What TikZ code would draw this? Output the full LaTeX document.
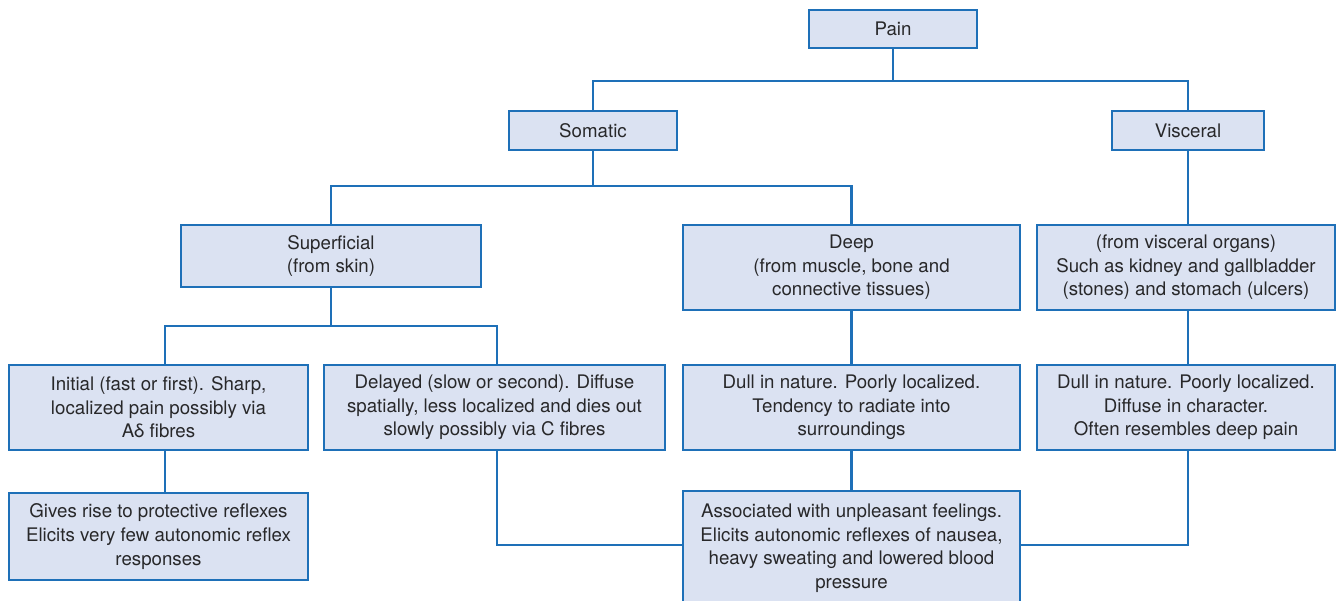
\documentclass[tikz,border=0pt]{standalone}
\usepackage{fontspec}
\setmainfont{TeX Gyre Heros}
\definecolor{boxfill}{RGB}{219,226,242}
\definecolor{boxline}{RGB}{30,112,184}
\definecolor{inktext}{RGB}{40,40,42}
\tikzset{
  box/.style={draw=boxline, line width=1.8pt, fill=boxfill, rectangle,
    inner sep=0pt, align=center, text=inktext,
    font=\fontsize{18.7}{23.6}\selectfont},
  conn/.style={draw=boxline, line width=2.7pt, line cap=rect}
}
\begin{document}
\begin{tikzpicture}[x=1pt,y=-1pt]
\useasboundingbox (0,0) rectangle (1339,600);

% level 0
\node[box, minimum width=168, minimum height=38] (pain) at (893,29) {Pain};
% level 1
\node[box, minimum width=168, minimum height=39] (somatic) at (593,130.5) {Somatic};
\node[box, minimum width=152, minimum height=39] (visceral) at (1188,130.5) {Visceral};
% level 2
\node[box, minimum width=300, minimum height=62] (superficial) at (331,256) {Superficial\\(from skin)};
\node[box, minimum width=337, minimum height=85] (deep) at (851.5,267.5) {Deep\\(from muscle, bone and\\connective tissues)};
\node[box, minimum width=298, minimum height=85] (viscsub) at (1186,267.5) {(from visceral organs)\\Such as kidney and gallbladder\\(stones) and stomach (ulcers)};
% level 3
\node[box, minimum width=299, minimum height=85] (initial) at (158.5,407.5) {Initial (fast or first). Sharp,\\localized pain possibly via\\Aδ fibres};
\node[box, minimum width=341, minimum height=85] (delayed) at (494.5,407.5) {Delayed (slow or second). Diffuse\\spatially, less localized and dies out\\slowly possibly via C fibres};
\node[box, minimum width=337, minimum height=85] (dulldeep) at (851.5,407.5) {Dull in nature. Poorly localized.\\Tendency to radiate into\\surroundings};
\node[box, minimum width=298, minimum height=85] (dullvisc) at (1186,407.5) {Dull in nature. Poorly localized.\\Diffuse in character.\\Often resembles deep pain};
% level 4
\node[box, minimum width=299, minimum height=87] (gives) at (158.5,536.5) {Gives rise to protective reflexes\\Elicits very few autonomic reflex\\responses};
\node[box, minimum width=337, minimum height=114] (assoc) at (851.5,548) {Associated with unpleasant feelings.\\Elicits autonomic reflexes of nausea,\\heavy sweating and lowered blood\\pressure};

% junctions
\coordinate (j1) at (893,81);
\coordinate (j2) at (593,186);
\coordinate (j3) at (331,326);

% connectors
\draw[conn] (pain.south) -- (j1);
\draw[conn] (somatic.north) |- (j1) -| (visceral.north);
\draw[conn] (somatic.south) -- (j2);
\draw[conn] (superficial.north) |- (j2) -| (deep.north);
\draw[conn] (visceral.south) -- (visceral.south |- viscsub.north);
\draw[conn] (superficial.south) -- (j3);
\draw[conn] (initial.north -| 165,0) |- (j3) -| (delayed.north -| 497,0);
\draw[conn] (initial.south -| 165,0) -- (gives.north -| 165,0);
\draw[conn] (deep.south) -- (dulldeep.north);
\draw[conn] (viscsub.south -| visceral.south) -- (dullvisc.north -| visceral.south);
\draw[conn] (dulldeep.south) -- (assoc.north);
\draw[conn] (delayed.south -| 497,0) |- (assoc.west |- 0,545);
\draw[conn] (dullvisc.south -| visceral.south) |- (assoc.east |- 0,545);
\end{tikzpicture}
\end{document}
